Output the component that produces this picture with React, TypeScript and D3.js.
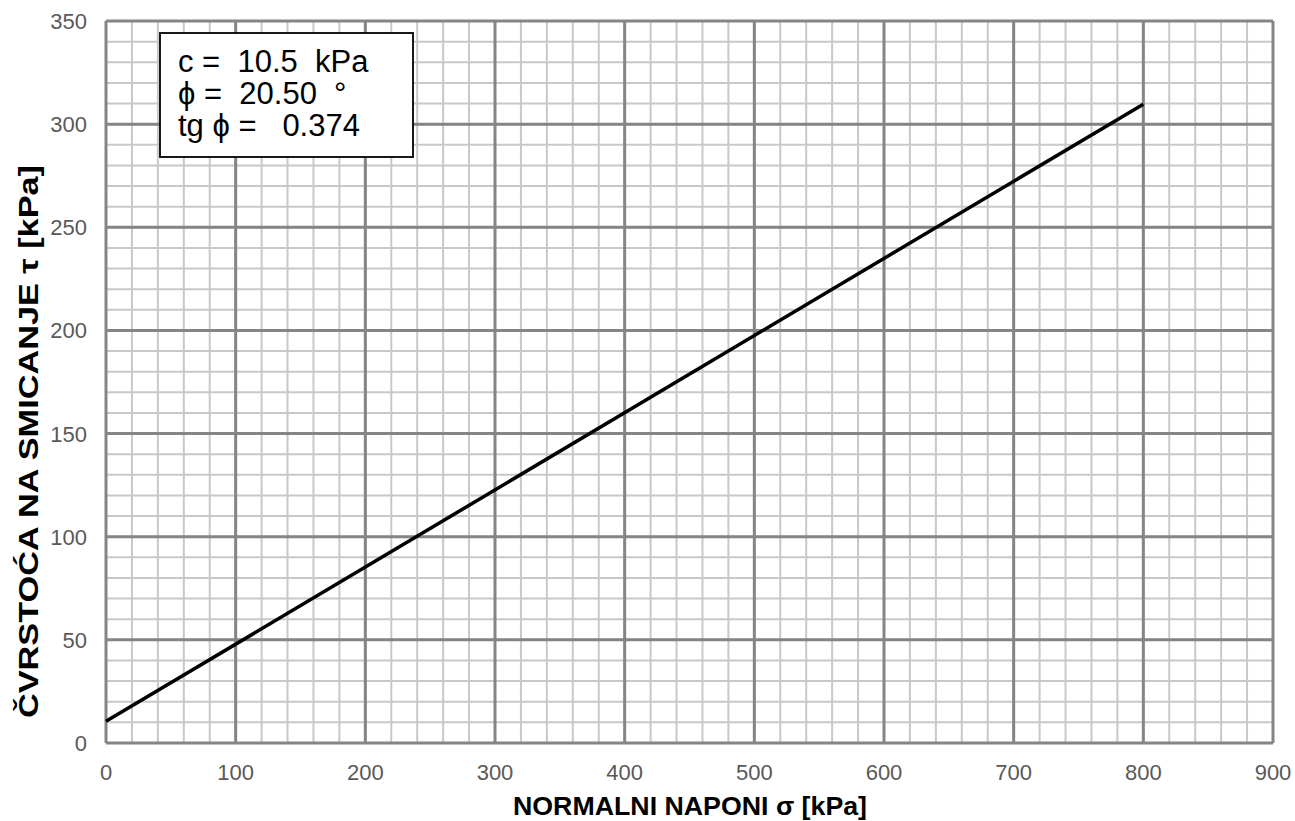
import React from "react";
import * as d3 from "d3";

const xTicks = [0, 100, 200, 300, 400, 500, 600, 700, 800, 900];
const yTicks = [0, 50, 100, 150, 200, 250, 300, 350];
const sigmaValues = [0, 800];
const tauValues = [10.5, 309.7];
const legendLines = ["c =  10.5  kPa", "ϕ =  20.50  °", "tg ϕ =   0.374"];

export default function App() {
  const W = 1295, H = 821;
  const left = 106, right = 1273, top = 21, bottom = 743;
  const x = d3.scaleLinear().domain([0, 900]).range([left, right]);
  const y = d3.scaleLinear().domain([0, 350]).range([bottom, top]);
  const xMinor = d3.range(0, 901, 20);
  const yMinor = d3.range(0, 351, 10);
  const pts = sigmaValues.map((s, i) => [x(s), y(tauValues[i])] as [number, number]);
  const line = d3.line()(pts) || "";
  const font = "Liberation Sans, Arial, sans-serif";
  return (
    <svg width={W} height={H} style={{ position: "absolute", left: 0, top: 0, background: "#fff" }}>
      <rect x={0} y={0} width={W} height={H} fill="#fff" />
      {xMinor.map((v) => (
        <line key={"xm" + v} x1={x(v)} x2={x(v)} y1={top} y2={bottom} stroke="#c8c8c8" strokeWidth={2} />
      ))}
      {yMinor.map((v) => (
        <line key={"ym" + v} x1={left} x2={right} y1={y(v)} y2={y(v)} stroke="#c8c8c8" strokeWidth={2} />
      ))}
      {xTicks.map((v) => (
        <line key={"xM" + v} x1={x(v)} x2={x(v)} y1={top} y2={bottom} stroke="#858585" strokeWidth={3} />
      ))}
      {yTicks.map((v) => (
        <line key={"yM" + v} x1={left} x2={right} y1={y(v)} y2={y(v)} stroke="#858585" strokeWidth={3} />
      ))}
      <path d={line} stroke="#000" strokeWidth={3.5} fill="none" />
      {xTicks.map((v) => (
        <text key={"xt" + v} x={x(v)} y={780} textAnchor="middle" fontFamily={font} fontSize={22} fill="#595959">{v}</text>
      ))}
      {yTicks.map((v) => (
        <text key={"yt" + v} x={87} y={y(v) + 8} textAnchor="end" fontFamily={font} fontSize={22} fill="#595959">{v}</text>
      ))}
      <text x={513} y={815} fontFamily={font} fontSize={25} fontWeight="bold" fill="#000" textLength={354} lengthAdjust="spacingAndGlyphs">NORMALNI NAPONI σ [kPa]</text>
      <text transform={`translate(38,718) rotate(-90)`} fontFamily={font} fontSize={27} fontWeight="bold" fill="#000" textLength={553} lengthAdjust="spacingAndGlyphs">ČVRSTOĆA NA SMICANJE τ [kPa]</text>
      <rect x={160} y={33} width={253} height={124} fill="#fff" stroke="#000" strokeWidth={1.8} />
      {legendLines.map((t, i) => (
        <text key={"lg" + i} x={178} y={72 + i * 32} fontFamily={font} fontSize={31} fill="#000" style={{ whiteSpace: "pre" }}>{t}</text>
      ))}
    </svg>
  );
}
